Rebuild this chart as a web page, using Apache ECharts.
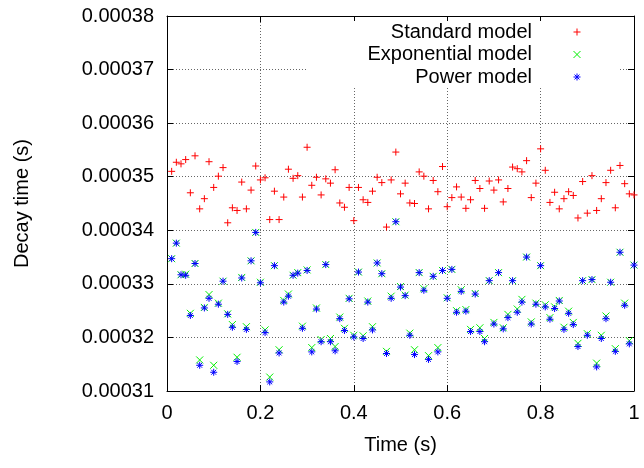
<!DOCTYPE html>
<html>
<head>
<meta charset="utf-8">
<script src="https://cdn.jsdelivr.net/npm/echarts@6/dist/echarts.min.js"></script>
<style>html,body{margin:0;padding:0;background:#fff}#c{width:644px;height:468px}</style>
</head>
<body>
<div id="c"></div>
<script>
const time = [0.01,0.02,0.03,0.04,0.05,0.06,0.07,0.08,0.09,0.10,
0.11,0.12,0.13,0.14,0.15,0.16,0.17,0.18,0.19,0.20,
0.21,0.22,0.23,0.24,0.25,0.26,0.27,0.28,0.29,0.30,
0.31,0.32,0.33,0.34,0.35,0.36,0.37,0.38,0.39,0.40,
0.41,0.42,0.43,0.44,0.45,0.46,0.47,0.48,0.49,0.50,
0.51,0.52,0.53,0.54,0.55,0.56,0.57,0.58,0.59,0.60,
0.61,0.62,0.63,0.64,0.65,0.66,0.67,0.68,0.69,0.70,
0.71,0.72,0.73,0.74,0.75,0.76,0.77,0.78,0.79,0.80,
0.81,0.82,0.83,0.84,0.85,0.86,0.87,0.88,0.89,0.90,
0.91,0.92,0.93,0.94,0.95,0.96,0.97,0.98,0.99,1.00];

const standardModel = [0.0003510,0.0003527,0.0003524,0.0003532,0.0003470,0.0003539,0.0003440,0.0003459,0.0003528,0.0003480,
0.0003501,0.0003517,0.0003414,0.0003442,0.0003437,0.0003490,0.0003440,0.0003475,0.0003520,0.0003494,
0.0003498,0.0003420,0.0003473,0.0003420,0.0003462,0.0003514,0.0003497,0.0003502,0.0003462,0.0003555,
0.0003484,0.0003499,0.0003466,0.0003496,0.0003488,0.0003513,0.0003451,0.0003443,0.0003480,0.0003418,
0.0003480,0.0003457,0.0003452,0.0003473,0.0003499,0.0003489,0.0003406,0.0003494,0.0003546,0.0003468,
0.0003488,0.0003451,0.0003450,0.0003509,0.0003501,0.0003440,0.0003493,0.0003472,0.0003519,0.0003444,
0.0003461,0.0003481,0.0003462,0.0003441,0.0003457,0.0003493,0.0003478,0.0003441,0.0003492,0.0003475,
0.0003494,0.0003453,0.0003478,0.0003518,0.0003515,0.0003509,0.0003530,0.0003461,0.0003488,0.0003552,
0.0003512,0.0003452,0.0003471,0.0003440,0.0003459,0.0003472,0.0003465,0.0003423,0.0003491,0.0003432,
0.0003502,0.0003437,0.0003459,0.0003489,0.0003512,0.0003442,0.0003521,0.0003487,0.0003468,0.0003466];

const exponentialModel = [0.0003347,0.0003376,0.0003317,0.0003318,0.0003245,0.0003338,0.0003158,0.0003256,0.0003280,0.0003148,
0.0003264,0.0003305,0.0003244,0.0003224,0.0003163,0.0003312,0.0003220,0.0003343,0.0003396,0.0003303,
0.0003214,0.0003126,0.0003334,0.0003177,0.0003269,0.0003281,0.0003316,0.0003321,0.0003221,0.0003326,
0.0003181,0.0003255,0.0003196,0.0003336,0.0003198,0.0003183,0.0003238,0.0003217,0.0003273,0.0003204,
0.0003322,0.0003203,0.0003268,0.0003220,0.0003339,0.0003319,0.0003174,0.0003277,0.0003416,0.0003295,
0.0003279,0.0003208,0.0003177,0.0003321,0.0003291,0.0003166,0.0003314,0.0003181,0.0003325,0.0003274,
0.0003327,0.0003250,0.0003289,0.0003252,0.0003215,0.0003282,0.0003218,0.0003198,0.0003306,0.0003228,
0.0003321,0.0003218,0.0003243,0.0003306,0.0003253,0.0003271,0.0003350,0.0003229,0.0003264,0.0003334,
0.0003261,0.0003237,0.0003257,0.0003269,0.0003219,0.0003249,0.0003228,0.0003189,0.0003306,0.0003207,
0.0003308,0.0003152,0.0003204,0.0003240,0.0003303,0.0003179,0.0003359,0.0003264,0.0003194,0.0003335];

const powerModel = [0.0003347,0.0003376,0.0003317,0.0003316,0.0003241,0.0003338,0.0003148,0.0003255,0.0003273,0.0003135,
0.0003262,0.0003305,0.0003243,0.0003219,0.0003155,0.0003311,0.0003215,0.0003343,0.0003396,0.0003302,
0.0003209,0.0003117,0.0003334,0.0003171,0.0003266,0.0003277,0.0003316,0.0003320,0.0003217,0.0003325,
0.0003173,0.0003253,0.0003192,0.0003336,0.0003192,0.0003175,0.0003235,0.0003213,0.0003272,0.0003201,
0.0003322,0.0003198,0.0003266,0.0003214,0.0003339,0.0003319,0.0003170,0.0003273,0.0003416,0.0003294,
0.0003278,0.0003204,0.0003168,0.0003321,0.0003288,0.0003159,0.0003314,0.0003173,0.0003325,0.0003273,
0.0003327,0.0003247,0.0003286,0.0003249,0.0003211,0.0003281,0.0003211,0.0003192,0.0003306,0.0003225,
0.0003321,0.0003216,0.0003237,0.0003306,0.0003247,0.0003266,0.0003350,0.0003225,0.0003262,0.0003334,
0.0003257,0.0003234,0.0003254,0.0003268,0.0003215,0.0003245,0.0003224,0.0003183,0.0003306,0.0003204,
0.0003308,0.0003145,0.0003198,0.0003235,0.0003303,0.0003174,0.0003359,0.0003260,0.0003188,0.0003335];

const seriesNames = ['Standard model', 'Exponential model', 'Power model'];
const xTickLabels = ['0', '0.2', '0.4', '0.6', '0.8', '1'];
const yTickLabels = ['0.00031', '0.00032', '0.00033', '0.00034', '0.00035', '0.00036', '0.00037', '0.00038'];
const xTitle = 'Time (s)';
const yTitle = 'Decay time (s)';

const FONT = '"Liberation Sans", Arial, Helvetica, sans-serif';
const COLORS = ['#ff0000', '#00f000', '#0000ff'];
const SYMS = [
  'path://M0,5L10,5M5,0L5,10',
  'path://M0,0L10,10M10,0L0,10',
  'path://M0,5L10,5M5,0L5,10M1.5,1.5L8.5,8.5M8.5,1.5L1.5,8.5'
];

function pick(labels, v) {
  let best = '', bd = Infinity;
  labels.forEach(l => { const d = Math.abs(parseFloat(l) - v); if (d < bd) { bd = d; best = l; } });
  return best;
}

const xMin = parseFloat(xTickLabels[0]), xMax = parseFloat(xTickLabels[xTickLabels.length - 1]);
const yMin = parseFloat(yTickLabels[0]), yMax = parseFloat(yTickLabels[yTickLabels.length - 1]);
const xStep = parseFloat(xTickLabels[1]) - xMin;
const yStep = 0.00001;

const chart = echarts.init(document.getElementById('c'), null, { renderer: 'canvas' });

const valuesList = [standardModel, exponentialModel, powerModel];

const axisBase = {
  axisLine: { show: true, onZero: false, lineStyle: { color: '#000', width: 1 } },
  axisTick: { show: true, inside: true, length: 6, lineStyle: { color: '#000', width: 1 } },
};

const legendGraphics = [
  { type: 'rect', z: 1, shape: { x: 306, y: 21, width: 314, height: 67 }, style: { fill: '#fff' }, silent: true }
];
const legendRows = [32, 54.5, 77];
seriesNames.forEach((n, i) => {
  legendGraphics.push({
    type: 'text', z: 3, x: 532, y: legendRows[i],
    style: { text: n, font: '20px ' + FONT, fill: '#000', align: 'right', verticalAlign: 'middle' }
  });
  const cx = 577, cy = legendRows[i], r = 3.5;
  const segs = [];
  if (i === 0 || i === 2) { segs.push([cx - r, cy, cx + r, cy], [cx, cy - r, cx, cy + r]); }
  if (i === 1 || i === 2) { const q = i === 2 ? r * 0.7 : r; segs.push([cx - q, cy - q, cx + q, cy + q], [cx + q, cy - q, cx - q, cy + q]); }
  segs.forEach(s => legendGraphics.push({
    type: 'line', z: 3, shape: { x1: s[0], y1: s[1], x2: s[2], y2: s[3] },
    style: { stroke: COLORS[i], lineWidth: 1 }
  }));
});

const option = {
  backgroundColor: '#fff',
  animation: false,
  textStyle: { fontFamily: FONT },
  grid: { left: 167, right: 10, top: 16, bottom: 77, containLabel: false },
  xAxis: [
    Object.assign({}, axisBase, {
      type: 'value', position: 'bottom', min: xMin, max: xMax, interval: xStep,
      name: xTitle, nameLocation: 'middle', nameGap: 44,
      nameTextStyle: { fontSize: 20, color: '#000', fontFamily: FONT },
      axisLabel: { show: true, margin: 12, fontSize: 20, color: '#000', fontFamily: FONT,
        formatter: v => pick(xTickLabels, v) },
      splitLine: { show: true, lineStyle: { color: '#666', type: [1, 2], width: 1 } }
    }),
    Object.assign({}, axisBase, {
      type: 'value', position: 'top', min: xMin, max: xMax, interval: xStep,
      axisLabel: { show: false }, splitLine: { show: false }
    })
  ],
  yAxis: [
    Object.assign({}, axisBase, {
      type: 'value', position: 'left', min: yMin, max: yMax, interval: yStep,
      name: yTitle, nameLocation: 'middle', nameGap: 135, nameRotate: 90,
      nameTextStyle: { fontSize: 20, color: '#000', fontFamily: FONT },
      axisLabel: { show: true, margin: 13, fontSize: 20, color: '#000', fontFamily: FONT,
        formatter: v => pick(yTickLabels, v) },
      splitLine: { show: true, lineStyle: { color: '#666', type: [1, 2], width: 1 } }
    }),
    Object.assign({}, axisBase, {
      type: 'value', position: 'right', min: yMin, max: yMax, interval: yStep,
      axisLabel: { show: false }, splitLine: { show: false }
    })
  ],
  series: seriesNames.map((n, i) => ({
    name: n,
    type: 'scatter',
    xAxisIndex: 0, yAxisIndex: 0,
    z: 2 + i,
    symbol: SYMS[i],
    symbolSize: 7,
    itemStyle: { color: 'none', borderColor: COLORS[i], borderWidth: 1, opacity: 1 },
    data: time.map((t, k) => [t, valuesList[i][k]])
  })),
  graphic: legendGraphics
};

chart.setOption(option);
</script>
</body>
</html>
